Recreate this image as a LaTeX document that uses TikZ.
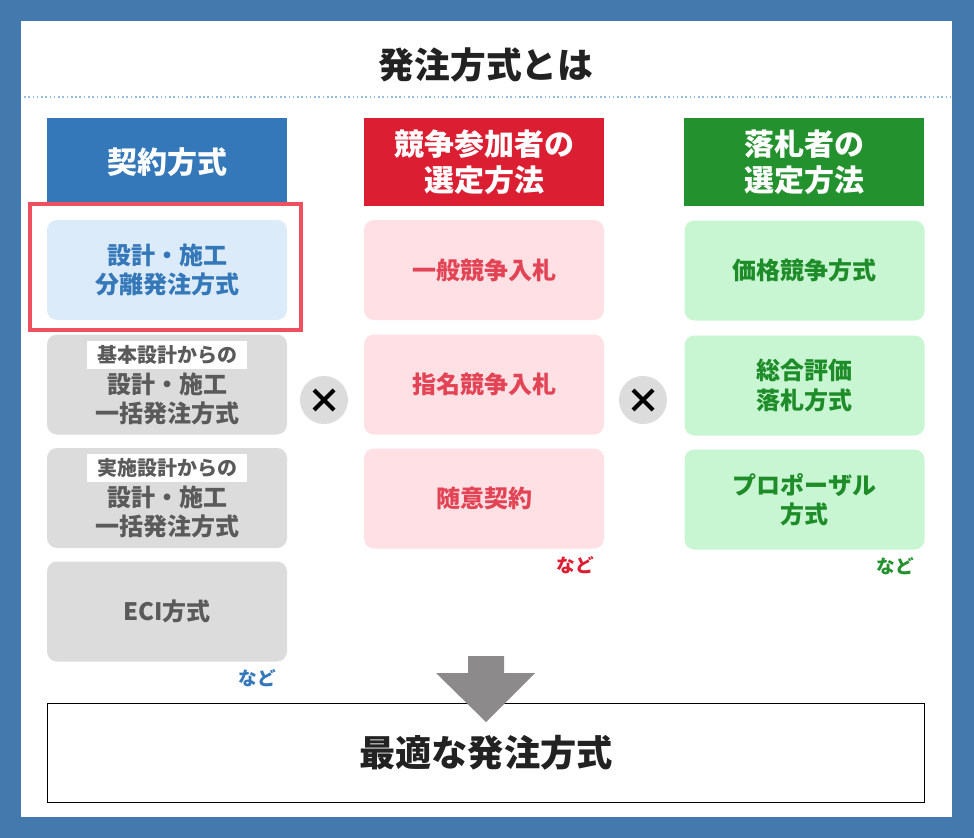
\documentclass[tikz,border=0pt]{standalone}
\usepackage{fontspec}
\setmainfont{Noto Sans CJK JP}
\usetikzlibrary{positioning}

\definecolor{frameblue}{RGB}{68,121,173}
\definecolor{keiyaku}{RGB}{52,120,185}
\definecolor{keiyakulight}{RGB}{220,235,250}
\definecolor{kyoso}{RGB}{220,30,50}
\definecolor{kyosotext}{RGB}{226,68,85}
\definecolor{kyosolight}{RGB}{255,224,228}
\definecolor{rakusatsu}{RGB}{35,145,45}
\definecolor{rakusatsutext}{RGB}{30,140,40}
\definecolor{rakusatsulight}{RGB}{200,245,210}
\definecolor{cardgray}{RGB}{220,220,220}
\definecolor{textgray}{RGB}{90,90,90}
\definecolor{hilite}{RGB}{238,80,95}
\definecolor{arrowgray}{RGB}{140,138,138}
\definecolor{dotblue}{RGB}{150,190,225}
\definecolor{inkblack}{RGB}{34,34,34}

\begin{document}
\begin{tikzpicture}[x=0.75pt,y=-0.75pt,
  colhead/.style={minimum width=180pt,minimum height=66pt,inner sep=0pt,
    text=white,align=center,font=\bfseries\fontsize{22.5}{27}\selectfont},
  card/.style={rounded corners=7.5pt,minimum width=180pt,minimum height=75pt,
    inner sep=0pt,align=center,font=\bfseries\fontsize{18}{22}\selectfont},
  graycard/.style={card,fill=cardgray,text=textgray},
  subtag/.style={fill=white,minimum width=120pt,minimum height=21pt,inner sep=0pt,
    text=textgray,font=\bfseries\fontsize{15}{18}\selectfont},
  etc/.style={font=\bfseries\fontsize{14}{16}\selectfont},
  times/.style={circle,fill=cardgray,minimum size=36pt,inner sep=0pt},
  timesline/.style={line width=3pt,black}]

  \useasboundingbox (0,0) rectangle (974,838);
  \fill[frameblue] (0,0) rectangle (974,838);
  \fill[white] (21,21) rectangle (952,817);

  % title
  \node[text=inkblack,font=\bfseries\fontsize{26.8}{30}\selectfont] (title) at (486,65) {発注方式とは};
  \draw[dotblue,dotted,line width=1.2pt] (24,97) -- (950,97);

  % column headers
  \node[colhead,fill=keiyaku] (hkeiyaku) at (167,162) {契約方式};
  \node[colhead,fill=kyoso] (hkyoso) at (484,162) {競争参加者の\\選定方法};
  \node[colhead,fill=rakusatsu] (hraku) at (804,162) {落札者の\\選定方法};

  % contract methods
  \node[card,fill=keiyakulight,text=keiyaku] (bunri) at (167,270) {設計・施工\\分離発注方式};
  \draw[hilite,line width=3pt] (30,204) rectangle (301,330);

  \node[graycard] (kihon) at (167,384.5) {};
  \node[subtag] (kihontag) at (167,355) {基本設計からの};
  \node[align=center,text=textgray,font=\bfseries\fontsize{18}{22}\selectfont] (kihontxt) at (167,399) {設計・施工\\一括発注方式};

  \node[graycard] (jisshi) at (167,498) {};
  \node[subtag] (jisshitag) at (167,468) {実施設計からの};
  \node[align=center,text=textgray,font=\bfseries\fontsize{18}{22}\selectfont] (jisshitxt) at (167,512) {設計・施工\\一括発注方式};

  \node[graycard] (eci) at (167,611.5) {ECI方式};
  \node[etc,text=keiyaku] (etc1) at (257,678) {など};

  % bidder selection
  \node[card,fill=kyosolight,text=kyosotext] (ippan) at (484,270) {一般競争入札};
  \node[card,fill=kyosolight,text=kyosotext] (shimei) at (484,384.5) {指名競争入札};
  \node[card,fill=kyosolight,text=kyosotext] (zuii) at (484,498.5) {随意契約};
  \node[etc,text=kyoso] (etc2) at (575,565) {など};

  % winner selection
  \node[card,fill=rakusatsulight,text=rakusatsutext] (kakaku) at (804.5,270.5) {価格競争方式};
  \node[card,fill=rakusatsulight,text=rakusatsutext] (sogo) at (804.5,385.5) {総合評価\\落札方式};
  \node[card,fill=rakusatsulight,text=rakusatsutext] (propo) at (804.5,499.5) {プロポーザル\\方式};
  \node[etc,text=rakusatsu] (etc3) at (895,566) {など};

  % the two crosses
  \foreach \n/\cx in {x1/324,x2/643}{
    \node[times] (\n) at (\cx,400) {};
    \draw[timesline] (\cx-10,390) -- (\cx+10,410);
    \draw[timesline] (\cx-10,410) -- (\cx+10,390);
  }

  % result
  \node[draw=black,line width=0.9pt,fill=white,minimum width=657.75pt,minimum height=74.25pt,
    inner sep=0pt,text=inkblack,font=\bfseries\fontsize{27.2}{30}\selectfont] (result) at (486,753) {最適な発注方式};
  \fill[arrowgray] (468,656) -- (504,656) -- (504,673) -- (535,673) -- (486,722)
    -- (436,673) -- (468,673) -- cycle;
\end{tikzpicture}
\end{document}
